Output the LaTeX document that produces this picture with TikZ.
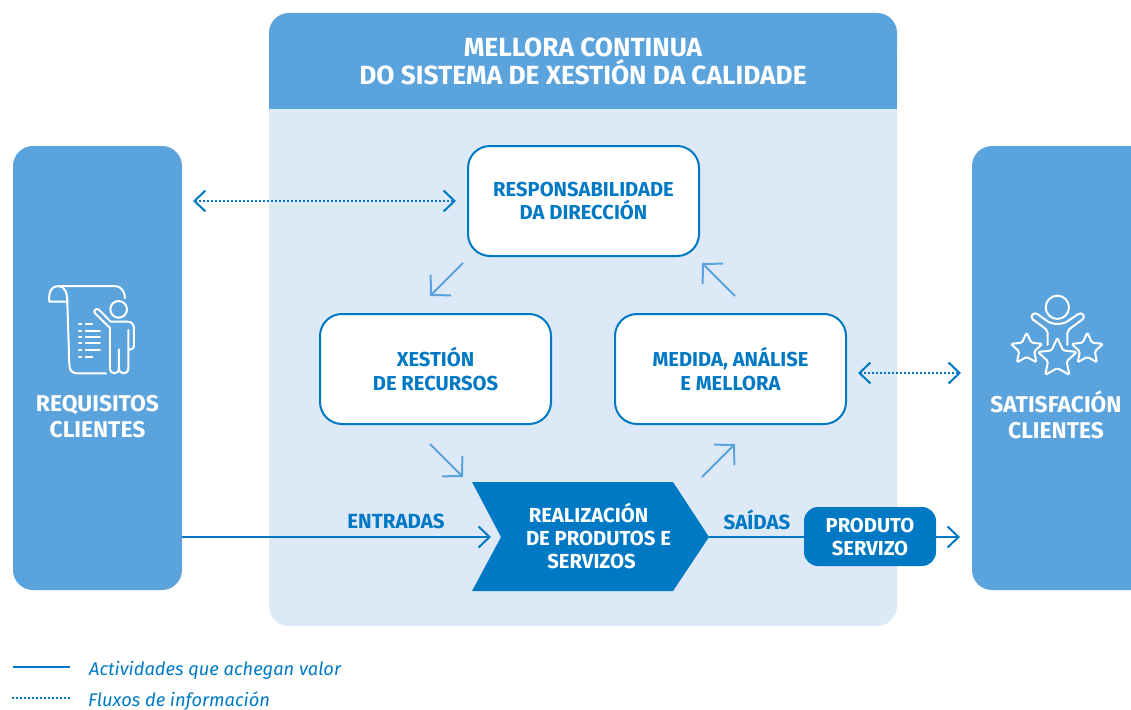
\documentclass[tikz,border=0pt]{standalone}
\usepackage{fontspec}
\setmainfont{Fira Sans}
\usetikzlibrary{arrows.meta,positioning,shapes.geometric}

\definecolor{panelblue}{HTML}{5AA3DD}
\definecolor{lightblue}{HTML}{DEE9F8}
\definecolor{darkblue}{HTML}{0079C5}

\begin{document}
\begin{tikzpicture}[x=1pt, y=-1pt, >={Straight Barb[length=11pt, width=21pt, line width=2pt]}, line cap=butt]

    \tikzstyle{panel} = [rectangle, rounded corners=20pt, fill=panelblue, outer sep=0pt, inner sep=0pt]
    \tikzstyle{box} = [rectangle, rounded corners=22pt, minimum width=231pt, minimum height=110pt, draw=darkblue, line width=2pt, fill=white, outer sep=0pt, align=center, text=darkblue, font=\fontsize{20.2}{23.5}\selectfont\bfseries]
    \tikzstyle{whitetext} = [align=center, text=white, font=\fontsize{22.8}{26}\selectfont\bfseries]
    \tikzstyle{flowlabel} = [text=darkblue, font=\fontsize{20.5}{20}\selectfont\bfseries]
    \tikzstyle{legend} = [anchor=west, inner sep=0pt, text=darkblue, font=\fontsize{18.3}{20}\selectfont\itshape]
    \tikzstyle{flow} = [->, darkblue, line width=2pt]
    \tikzstyle{cycle} = [-{Straight Barb[length=14pt, width=29pt, line width=2pt]}, panelblue, line width=2pt]
    \tikzstyle{info} = [<->, darkblue, line width=2pt, dash pattern=on 2pt off 2pt]
    \tikzstyle{icon} = [white, line width=2pt, line cap=round, line join=round]
    \tikzstyle{staricon} = [star, star points=5, star point ratio=2.1, draw=white, line width=2pt, rounded corners=1.5pt, inner sep=0pt]

    \useasboundingbox (0,0) rectangle (1131,709);
    \clip (0,0) rectangle (1131,709);

    % central panel
    \fill[lightblue, rounded corners=20pt] (269,13) rectangle (897,626);
    \fill[panelblue, rounded corners=20pt] (269,13) rectangle (897,70);
    \fill[panelblue] (269,40) rectangle (897,109);
    \node (titulo) [whitetext, font=\fontsize{26.3}{28}\selectfont\bfseries] at (583,61) {MELLORA CONTINUA\\DO SISTEMA DE XESTIÓN DA CALIDADE};

    % side panels
    \node (requisitos) [panel, minimum width=169pt, minimum height=444pt] at (97.5,368) {};
    \node (satisfacion) [panel, minimum width=200pt, minimum height=444pt] at (1072,368) {};
    \node (requisitostxt) [whitetext] at (97.5,416.5) {REQUISITOS\\CLIENTES};
    \node (satisfaciontxt) [whitetext] at (1056,414.5) {SATISFACIÓN\\CLIENTES};

    % process boxes
    \node (resp) [box] at (583.5,201) {RESPONSABILIDADE\\DA DIRECCIÓN};
    \node (xestion) [box, below left=58pt and -83pt of resp] {XESTIÓN\\DE RECURSOS};
    \node (medida) [box, right=64pt of xestion] {MEDIDA, ANÁLISE\\E MELLORA};

    % chevron
    \fill[darkblue] (472,482) -- (673,482) -- (709,537) -- (673,591) -- (472,591) -- (501,537) -- cycle;
    \node (realizacion) [whitetext, font=\fontsize{20.3}{23}\selectfont\bfseries] at (598.5,536) {REALIZACIÓN\hspace*{20pt}\\DE PRODUTOS E\\SERVIZOS\hspace*{14pt}};
    \node (produto) [rectangle, rounded corners=14pt, fill=darkblue, minimum width=132pt, minimum height=59pt, outer sep=0pt, whitetext, font=\fontsize{20.2}{23}\selectfont\bfseries] at (870,536.5) {PRODUTO\\SERVIZO};

    \coordinate (entrada) at (491,537);
    \coordinate (punta) at (709,537);
    \coordinate (saida) at (960,537);

    \node (entradas) [flowlabel] at (396,521) {ENTRADAS};
    \node (saidas) [flowlabel] at (757,520) {SAÍDAS};

    % arrows of the cycle
    \coordinate (c1a) at (463,263);
    \coordinate (c1b) at (430,296);
    \coordinate (c2a) at (430,444);
    \coordinate (c2b) at (463,477);
    \coordinate (c3a) at (702,477);
    \coordinate (c3b) at (735,444);
    \coordinate (c4a) at (735,296);
    \coordinate (c4b) at (702,263);

    \draw[cycle] (c1a) -- (c1b);
    \draw[cycle] (c2a) -- (c2b);
    \draw[cycle] (c3a) -- (c3b);
    \draw[cycle] (c4a) -- (c4b);

    \draw[flow] (requisitos.east |- entrada) -- (entrada);
    \draw[darkblue, line width=2pt] (punta) -- (produto.west |- punta);
    \draw[flow] (produto.east |- saida) -- (saida);

    \draw[info] ([xshift=11pt]requisitos.east |- resp) -- ([xshift=-12pt]resp.west);
    \draw[info] ([xshift=12pt, yshift=-4pt]medida.east) -- ([xshift=-11pt, yshift=-4pt]satisfacion.west |- medida);

    % icon of the document
    \begin{scope}[shift={(20,270)}, x=.3333pt, y=-.3333pt]
        \draw[icon] (88,95) .. controls (85,65) and (95,48) .. (115,48) .. controls (135,48) and (142,70) .. (142,95) -- cycle;
        \draw[icon] (115,48) -- (285,48) .. controls (303,48) and (315,65) .. (315,85);
        \draw[icon] (142,95) -- (148,285) .. controls (148,302) and (158,310) .. (172,310) -- (258,310);
        \foreach \yy/\xx in {162/217, 182/240, 200/240, 220/240, 240/240, 260/217} {
            \draw[icon] (177,\yy) -- (184,\yy);
            \draw[icon] (197,\yy) -- (\xx,\yy);
        }
        \draw[icon] (296,118) circle [radius=25];
        \draw[icon] (268,172) -- (225,130) .. controls (218,122) and (230,112) .. (238,120) -- (272,155) -- (322,155) .. controls (335,155) and (342,163) .. (342,175) -- (342,225) .. controls (342,235) and (335,240) .. (326,240);
        \draw[icon] (270,172) -- (270,295) .. controls (270,315) and (297,315) .. (297,295) -- (297,238) -- (297,295) .. controls (297,315) and (325,315) .. (325,295) -- (325,180);
    \end{scope}

    % icon of the stars
    \begin{scope}[shift={(980,280)}, x=.3333pt, y=-.3333pt]
        \draw[icon] (232,82) circle [radius=35];
        \draw[icon] (203,195) -- (203,160) .. controls (203,150) and (195,145) .. (188,140) -- (158,118) .. controls (148,108) and (162,95) .. (172,102) -- (200,122) .. controls (215,135) and (250,135) .. (265,122) -- (295,102) .. controls (305,95) and (318,108) .. (308,118) -- (278,140) .. controls (270,145) and (262,150) .. (262,160) -- (262,195);
        \node (stara) [staricon, minimum size=33pt] at (140,207) {};
        \node (starb) [staricon, minimum size=33pt] at (322,207) {};
        \node (starc) [staricon, minimum size=41pt] at (232,235) {};
    \end{scope}

    % legend
    \coordinate (lega) at (13,667);
    \coordinate (legb) at (70,667);
    \coordinate (legc) at (12,698);
    \coordinate (legd) at (72,698);
    \draw[darkblue, line width=2pt] (lega) -- (legb);
    \draw[darkblue, line width=2pt, dash pattern=on 2pt off 2pt] (legc) -- (legd);
    \node (legtxta) [legend] at (89,670) {Actividades que achegan valor};
    \node (legtxtb) [legend] at (88,701) {Fluxos de información};
\end{tikzpicture}
\end{document}
